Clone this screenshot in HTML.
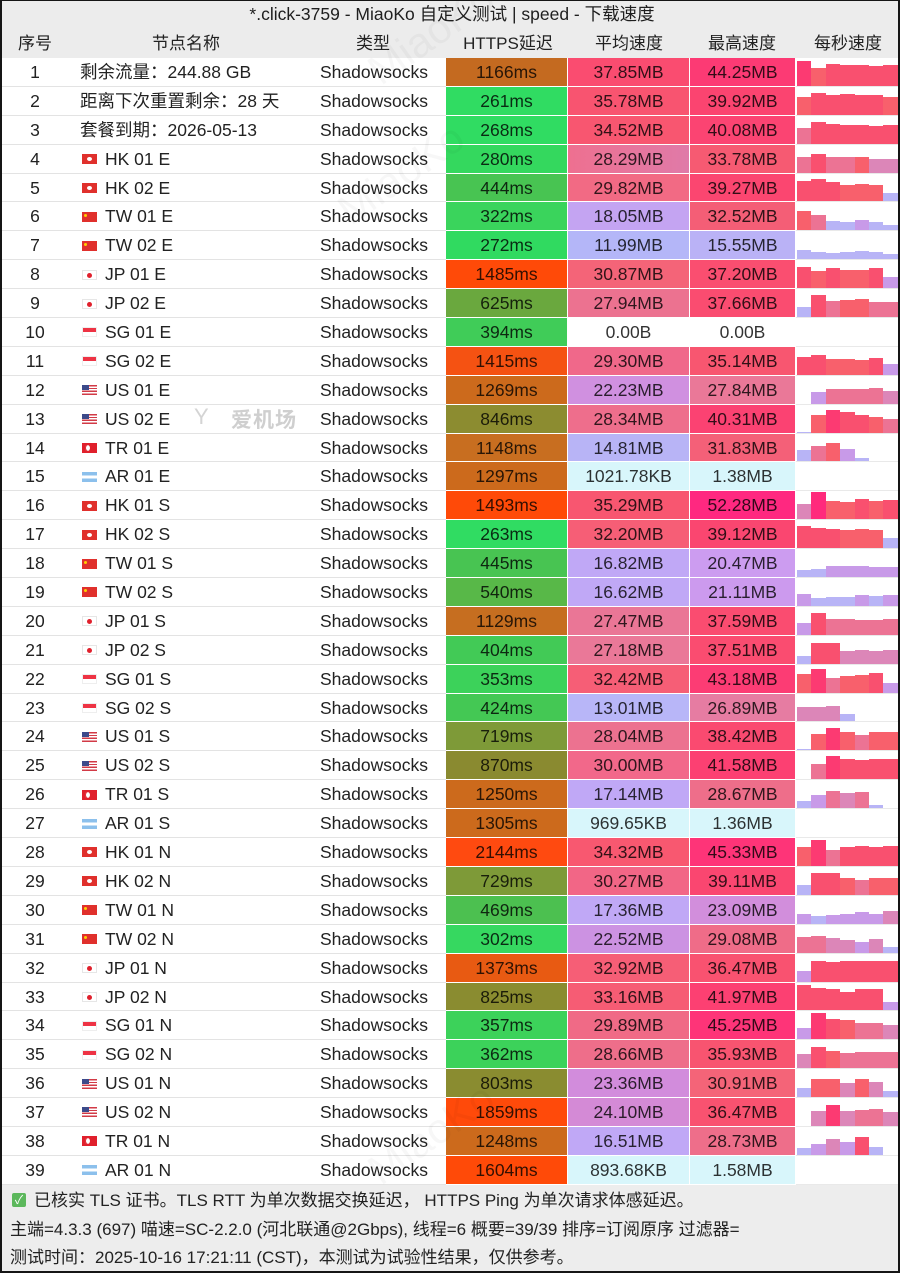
<!DOCTYPE html>
<html><head><meta charset="utf-8">
<style>
*{margin:0;padding:0;box-sizing:border-box}
html,body{width:900px;height:1273px;overflow:hidden;background:#fff}
body{position:relative;font-family:"Liberation Sans","Noto Sans CJK SC",sans-serif;color:#222;font-size:17.5px}
#hdr{position:absolute;left:0;top:0;width:900px;height:58px;background:#ececec}
#title{position:absolute;left:0;top:0;width:900px;height:29px;line-height:29px;text-align:center;font-size:17.5px;color:#1e1e1e;padding-left:4px}
.hl{position:absolute;top:29px;height:29px;line-height:29px;width:130px;text-align:center;font-size:17px;color:#222}
#rows{position:absolute;left:0;top:58px;width:900px}
.r{position:relative;height:28.9px;line-height:28.9px;background:linear-gradient(#e3e3e3,#e3e3e3) left bottom/446px 1px no-repeat,linear-gradient(#e9e9e9,#e9e9e9) right bottom/104px 1px no-repeat}
.r>span{position:absolute;top:0;white-space:nowrap}
.n{left:0;width:70px;text-align:center}
.nm{left:82px}
.nm.c{left:80px}
.t{left:304px;width:140px;text-align:center}
.l,.a,.m{height:calc(100% - 1px);text-align:center;color:rgba(0,0,0,.8)}
.l{left:446px;width:121px}
.a{left:568px;width:121px}
.m{left:690px;width:105px}
.s{left:797px;right:0;height:calc(100% - 1px)}
.s i{position:absolute;bottom:0;width:14.4px;display:block}
.s i:nth-child(1){left:0}
.s i:nth-child(2){left:14.4px}
.s i:nth-child(3){left:28.8px}
.s i:nth-child(4){left:43.2px}
.s i:nth-child(5){left:57.6px}
.s i:nth-child(6){left:72px}
.s i:nth-child(7){left:86.4px;width:auto;right:0}
.H{background:#fc3a72}.R{background:#f9506f}.O{background:#f8606c}.P{background:#ec7394}.M{background:#dc86b8}.V{background:#c89ae8}.B{background:#b8b4f6}
.f{display:inline-block;width:15px;height:10px;vertical-align:middle;margin-right:8px;position:relative;top:-1px}
.hk{background:#e0302c}.hk::after{content:"";position:absolute;left:5px;top:3px;width:5px;height:4px;border-radius:50%;background:#fff}
.tw{background:#e0302c}.tw::after{content:"";position:absolute;left:2px;top:2px;width:3px;height:3px;background:#ffd000;border-radius:50%}
.jp{background:#fff;border:1px solid #e6e6e6}.jp::after{content:"";position:absolute;left:4px;top:2px;width:5px;height:5px;border-radius:50%;background:#e0202c}
.sg{background:linear-gradient(#ee3344 50%,#fff 50%);border:1px solid #eee}
.us{background:linear-gradient(#3c4a8a,#3c4a8a) left top/7px 5px no-repeat,repeating-linear-gradient(#d23a46 0 1.4px,#fff 1.4px 2.8px)}
.tr{background:#e0202c}.tr::after{content:"";position:absolute;left:3px;top:2px;width:5px;height:6px;border-radius:50%;background:#fff;box-shadow:1px 0 0 0 #e0202c inset}
.ar{background:linear-gradient(#8cc0ec 33%,#fff 33% 67%,#8cc0ec 67%)}
#foot{position:absolute;left:0;top:1185px;width:900px;height:88px;background:#ededed}
.fl{position:absolute;left:10px;height:28px;line-height:28px;font-size:17px;color:#222;white-space:nowrap}
.ck{display:inline-block;width:14px;height:14px;background:#5cb85c;border-radius:2px;color:#fff;font-size:12px;line-height:14px;text-align:center;vertical-align:middle;margin:0 8px 0 2px;position:relative;top:-2px}
.wm{position:absolute;font-size:42px;color:rgba(0,0,0,.03);transform:rotate(-35deg);white-space:nowrap;pointer-events:none}
#frame{position:absolute;left:0;top:0;width:900px;height:1273px;border-style:solid;border-color:#151515;border-width:1px 2px 2px 2px;pointer-events:none}
</style></head><body>
<div id="hdr">
<div id="title">*.click-3759 - MiaoKo 自定义测试 | speed - 下载速度</div>
<div class="hl" style="left:-30px">序号</div>
<div class="hl" style="left:121px">节点名称</div>
<div class="hl" style="left:308px">类型</div>
<div class="hl" style="left:443px">HTTPS延迟</div>
<div class="hl" style="left:564px">平均速度</div>
<div class="hl" style="left:677px">最高速度</div>
<div class="hl" style="left:783px">每秒速度</div>
</div>

<div id="rows">
<div class="r"><span class="n">1</span><span class="nm c">剩余流量：244.88 GB</span><span class="t">Shadowsocks</span><span class="l" style="background:#c46a20">1166ms</span><span class="a" style="background:#fa4c70">37.85MB</span><span class="m" style="background:#fc3a74">44.25MB</span><span class="s"><i class="H" style="height:25px"></i><i class="O" style="height:18px"></i><i class="R" style="height:22px"></i><i class="R" style="height:21px"></i><i class="R" style="height:21px"></i><i class="R" style="height:20px"></i><i class="R" style="height:21px"></i></span></div>
<div class="r"><span class="n">2</span><span class="nm c">距离下次重置剩余：28 天</span><span class="t">Shadowsocks</span><span class="l" style="background:#30dc62">261ms</span><span class="a" style="background:#f85470">35.78MB</span><span class="m" style="background:#fb4470">39.92MB</span><span class="s"><i class="O" style="height:18px"></i><i class="R" style="height:22px"></i><i class="R" style="height:20px"></i><i class="R" style="height:21px"></i><i class="R" style="height:20px"></i><i class="R" style="height:20px"></i><i class="O" style="height:18px"></i></span></div>
<div class="r"><span class="n">3</span><span class="nm c">套餐到期：2026-05-13</span><span class="t">Shadowsocks</span><span class="l" style="background:#30dc62">268ms</span><span class="a" style="background:#f85670">34.52MB</span><span class="m" style="background:#fb4472">40.08MB</span><span class="s"><i class="P" style="height:16px"></i><i class="R" style="height:22px"></i><i class="R" style="height:20px"></i><i class="R" style="height:19px"></i><i class="R" style="height:19px"></i><i class="R" style="height:18px"></i><i class="R" style="height:19px"></i></span></div>
<div class="r"><span class="n">4</span><span class="nm"><span class="f hk"></span>HK 01 E</span><span class="t">Shadowsocks</span><span class="l" style="background:#34d85e">280ms</span><span class="a" style="background:linear-gradient(90deg,#ee7090,#e07aa8)">28.29MB</span><span class="m" style="background:#f65a72">33.78MB</span><span class="s"><i class="P" style="height:16px"></i><i class="R" style="height:19px"></i><i class="P" style="height:16px"></i><i class="P" style="height:16px"></i><i class="O" style="height:16px"></i><i class="M" style="height:14px"></i><i class="M" style="height:14px"></i></span></div>
<div class="r"><span class="n">5</span><span class="nm"><span class="f hk"></span>HK 02 E</span><span class="t">Shadowsocks</span><span class="l" style="background:#48c452">444ms</span><span class="a" style="background:#f26a84">29.82MB</span><span class="m" style="background:#fb4670">39.27MB</span><span class="s"><i class="R" style="height:20px"></i><i class="R" style="height:22px"></i><i class="R" style="height:19px"></i><i class="O" style="height:16px"></i><i class="O" style="height:17px"></i><i class="O" style="height:16px"></i><i class="B" style="height:8px"></i></span></div>
<div class="r"><span class="n">6</span><span class="nm"><span class="f tw"></span>TW 01 E</span><span class="t">Shadowsocks</span><span class="l" style="background:#3ad45c">322ms</span><span class="a" style="background:#c4a4f2">18.05MB</span><span class="m" style="background:#f45e76">32.52MB</span><span class="s"><i class="O" style="height:19px"></i><i class="P" style="height:15px"></i><i class="B" style="height:9px"></i><i class="B" style="height:8px"></i><i class="V" style="height:10px"></i><i class="B" style="height:8px"></i><i class="B" style="height:5px"></i></span></div>
<div class="r"><span class="n">7</span><span class="nm"><span class="f tw"></span>TW 02 E</span><span class="t">Shadowsocks</span><span class="l" style="background:#30da60">272ms</span><span class="a" style="background:#b4b6f8">11.99MB</span><span class="m" style="background:#bab2f6">15.55MB</span><span class="s"><i class="B" style="height:9px"></i><i class="B" style="height:7px"></i><i class="B" style="height:6px"></i><i class="B" style="height:7px"></i><i class="B" style="height:8px"></i><i class="B" style="height:7px"></i><i class="B" style="height:5px"></i></span></div>
<div class="r"><span class="n">8</span><span class="nm"><span class="f jp"></span>JP 01 E</span><span class="t">Shadowsocks</span><span class="l" style="background:#ff4a08">1485ms</span><span class="a" style="background:#f46478">30.87MB</span><span class="m" style="background:#fa4e70">37.20MB</span><span class="s"><i class="R" style="height:21px"></i><i class="O" style="height:17px"></i><i class="R" style="height:20px"></i><i class="O" style="height:18px"></i><i class="O" style="height:18px"></i><i class="R" style="height:20px"></i><i class="V" style="height:11px"></i></span></div>
<div class="r"><span class="n">9</span><span class="nm"><span class="f jp"></span>JP 02 E</span><span class="t">Shadowsocks</span><span class="l" style="background:#6aa83e">625ms</span><span class="a" style="background:#ec7290">27.94MB</span><span class="m" style="background:#fa4c70">37.66MB</span><span class="s"><i class="B" style="height:10px"></i><i class="R" style="height:22px"></i><i class="P" style="height:16px"></i><i class="O" style="height:17px"></i><i class="O" style="height:18px"></i><i class="P" style="height:15px"></i><i class="P" style="height:15px"></i></span></div>
<div class="r"><span class="n">10</span><span class="nm"><span class="f sg"></span>SG 01 E</span><span class="t">Shadowsocks</span><span class="l" style="background:#40cc58">394ms</span><span class="a" style="background:#fff">0.00B</span><span class="m" style="background:#fff">0.00B</span><span class="s"></span></div>
<div class="r"><span class="n">11</span><span class="nm"><span class="f sg"></span>SG 02 E</span><span class="t">Shadowsocks</span><span class="l" style="background:#f55212">1415ms</span><span class="a" style="background:#f0688a">29.30MB</span><span class="m" style="background:#f85670">35.14MB</span><span class="s"><i class="R" style="height:18px"></i><i class="R" style="height:20px"></i><i class="O" style="height:16px"></i><i class="O" style="height:16px"></i><i class="O" style="height:15px"></i><i class="R" style="height:17px"></i><i class="V" style="height:11px"></i></span></div>
<div class="r"><span class="n">12</span><span class="nm"><span class="f us"></span>US 01 E</span><span class="t">Shadowsocks</span><span class="l" style="background:#cc6a1c">1269ms</span><span class="a" style="background:#d090e0">22.23MB</span><span class="m" style="background:#ea7898">27.84MB</span><span class="s"><i class="B" style="height:0"></i><i class="V" style="height:12px"></i><i class="P" style="height:15px"></i><i class="P" style="height:15px"></i><i class="P" style="height:15px"></i><i class="P" style="height:16px"></i><i class="M" style="height:13px"></i></span></div>
<div class="r"><span class="n">13</span><span class="nm"><span class="f us"></span>US 02 E</span><span class="t">Shadowsocks</span><span class="l" style="background:#8c8c30">846ms</span><span class="a" style="background:#ee6e8c">28.34MB</span><span class="m" style="background:#fb4272">40.31MB</span><span class="s"><i class="B" style="height:1px"></i><i class="O" style="height:18px"></i><i class="H" style="height:23px"></i><i class="R" style="height:21px"></i><i class="R" style="height:18px"></i><i class="O" style="height:16px"></i><i class="P" style="height:14px"></i></span></div>
<div class="r"><span class="n">14</span><span class="nm"><span class="f tr"></span>TR 01 E</span><span class="t">Shadowsocks</span><span class="l" style="background:#c86e20">1148ms</span><span class="a" style="background:#b8b4f6">14.81MB</span><span class="m" style="background:#f46078">31.83MB</span><span class="s"><i class="B" style="height:11px"></i><i class="P" style="height:15px"></i><i class="O" style="height:18px"></i><i class="V" style="height:12px"></i><i class="B" style="height:3px"></i><i class="B" style="height:0"></i><i class="B" style="height:0"></i></span></div>
<div class="r"><span class="n">15</span><span class="nm"><span class="f ar"></span>AR 01 E</span><span class="t">Shadowsocks</span><span class="l" style="background:#cc6a1c">1297ms</span><span class="a" style="background:#d8f6fb">1021.78KB</span><span class="m" style="background:#d8f6fb">1.38MB</span><span class="s"></span></div>
<div class="r"><span class="n">16</span><span class="nm"><span class="f hk"></span>HK 01 S</span><span class="t">Shadowsocks</span><span class="l" style="background:#ff4a08">1493ms</span><span class="a" style="background:#f85670">35.29MB</span><span class="m" style="background:#ff2880">52.28MB</span><span class="s"><i class="M" style="height:15px"></i><i class="H" style="height:27px;background:#ff2a7c"></i><i class="O" style="height:18px"></i><i class="O" style="height:17px"></i><i class="R" style="height:20px"></i><i class="O" style="height:18px"></i><i class="R" style="height:19px"></i></span></div>
<div class="r"><span class="n">17</span><span class="nm"><span class="f hk"></span>HK 02 S</span><span class="t">Shadowsocks</span><span class="l" style="background:#30dc62">263ms</span><span class="a" style="background:#f65e76">32.20MB</span><span class="m" style="background:#fa4670">39.12MB</span><span class="s"><i class="R" style="height:22px"></i><i class="R" style="height:20px"></i><i class="R" style="height:19px"></i><i class="O" style="height:18px"></i><i class="O" style="height:19px"></i><i class="O" style="height:18px"></i><i class="B" style="height:10px"></i></span></div>
<div class="r"><span class="n">18</span><span class="nm"><span class="f tw"></span>TW 01 S</span><span class="t">Shadowsocks</span><span class="l" style="background:#48c452">445ms</span><span class="a" style="background:#c0a8f6">16.82MB</span><span class="m" style="background:#cc9cf0">20.47MB</span><span class="s"><i class="B" style="height:7px"></i><i class="B" style="height:8px"></i><i class="V" style="height:11px"></i><i class="V" style="height:11px"></i><i class="V" style="height:11px"></i><i class="V" style="height:10px"></i><i class="V" style="height:10px"></i></span></div>
<div class="r"><span class="n">19</span><span class="nm"><span class="f tw"></span>TW 02 S</span><span class="t">Shadowsocks</span><span class="l" style="background:#58b848">540ms</span><span class="a" style="background:#c0a8f6">16.62MB</span><span class="m" style="background:#cc9aee">21.11MB</span><span class="s"><i class="V" style="height:12px"></i><i class="B" style="height:8px"></i><i class="B" style="height:9px"></i><i class="B" style="height:9px"></i><i class="V" style="height:11px"></i><i class="B" style="height:10px"></i><i class="V" style="height:11px"></i></span></div>
<div class="r"><span class="n">20</span><span class="nm"><span class="f jp"></span>JP 01 S</span><span class="t">Shadowsocks</span><span class="l" style="background:#c66e20">1129ms</span><span class="a" style="background:#ea7696">27.47MB</span><span class="m" style="background:#fa4c70">37.59MB</span><span class="s"><i class="V" style="height:12px"></i><i class="R" style="height:22px"></i><i class="P" style="height:16px"></i><i class="P" style="height:16px"></i><i class="P" style="height:15px"></i><i class="P" style="height:15px"></i><i class="P" style="height:16px"></i></span></div>
<div class="r"><span class="n">21</span><span class="nm"><span class="f jp"></span>JP 02 S</span><span class="t">Shadowsocks</span><span class="l" style="background:#42ca56">404ms</span><span class="a" style="background:#ea7898">27.18MB</span><span class="m" style="background:#fa4c70">37.51MB</span><span class="s"><i class="B" style="height:8px"></i><i class="R" style="height:21px"></i><i class="R" style="height:21px"></i><i class="M" style="height:13px"></i><i class="M" style="height:14px"></i><i class="M" style="height:13px"></i><i class="M" style="height:14px"></i></span></div>
<div class="r"><span class="n">22</span><span class="nm"><span class="f sg"></span>SG 01 S</span><span class="t">Shadowsocks</span><span class="l" style="background:#3cd25a">353ms</span><span class="a" style="background:#f65e76">32.42MB</span><span class="m" style="background:#fc3c74">43.18MB</span><span class="s"><i class="O" style="height:19px"></i><i class="H" style="height:24px"></i><i class="P" style="height:15px"></i><i class="O" style="height:17px"></i><i class="O" style="height:18px"></i><i class="R" style="height:20px"></i><i class="V" style="height:10px"></i></span></div>
<div class="r"><span class="n">23</span><span class="nm"><span class="f sg"></span>SG 02 S</span><span class="t">Shadowsocks</span><span class="l" style="background:#44c854">424ms</span><span class="a" style="background:#b8b6f8">13.01MB</span><span class="m" style="background:#e67ca2">26.89MB</span><span class="s"><i class="M" style="height:14px"></i><i class="M" style="height:14px"></i><i class="M" style="height:15px"></i><i class="B" style="height:7px"></i><i class="B" style="height:0"></i><i class="B" style="height:0"></i><i class="B" style="height:0"></i></span></div>
<div class="r"><span class="n">24</span><span class="nm"><span class="f us"></span>US 01 S</span><span class="t">Shadowsocks</span><span class="l" style="background:#7e9a38">719ms</span><span class="a" style="background:#ec7290">28.04MB</span><span class="m" style="background:#fa4a70">38.42MB</span><span class="s"><i class="B" style="height:1px"></i><i class="O" style="height:16px"></i><i class="H" style="height:22px"></i><i class="O" style="height:18px"></i><i class="P" style="height:15px"></i><i class="O" style="height:18px"></i><i class="O" style="height:18px"></i></span></div>
<div class="r"><span class="n">25</span><span class="nm"><span class="f us"></span>US 02 S</span><span class="t">Shadowsocks</span><span class="l" style="background:#8a8a30">870ms</span><span class="a" style="background:#f2688a">30.00MB</span><span class="m" style="background:#fc4072">41.58MB</span><span class="s"><i class="B" style="height:0"></i><i class="P" style="height:15px"></i><i class="H" style="height:23px"></i><i class="R" style="height:20px"></i><i class="R" style="height:19px"></i><i class="R" style="height:20px"></i><i class="R" style="height:20px"></i></span></div>
<div class="r"><span class="n">26</span><span class="nm"><span class="f tr"></span>TR 01 S</span><span class="t">Shadowsocks</span><span class="l" style="background:#cc6a1c">1250ms</span><span class="a" style="background:#c0a8f6">17.14MB</span><span class="m" style="background:#ee6e8a">28.67MB</span><span class="s"><i class="B" style="height:7px"></i><i class="V" style="height:13px"></i><i class="P" style="height:17px"></i><i class="M" style="height:15px"></i><i class="P" style="height:16px"></i><i class="B" style="height:3px"></i><i class="B" style="height:0"></i></span></div>
<div class="r"><span class="n">27</span><span class="nm"><span class="f ar"></span>AR 01 S</span><span class="t">Shadowsocks</span><span class="l" style="background:#cc6a1c">1305ms</span><span class="a" style="background:#d8f6fb">969.65KB</span><span class="m" style="background:#d8f6fb">1.36MB</span><span class="s"></span></div>
<div class="r"><span class="n">28</span><span class="nm"><span class="f hk"></span>HK 01 N</span><span class="t">Shadowsocks</span><span class="l" style="background:#ff4a10">2144ms</span><span class="a" style="background:#f85870">34.32MB</span><span class="m" style="background:#fe3478">45.33MB</span><span class="s"><i class="O" style="height:19px"></i><i class="H" style="height:26px"></i><i class="P" style="height:16px"></i><i class="R" style="height:19px"></i><i class="R" style="height:20px"></i><i class="R" style="height:19px"></i><i class="R" style="height:20px"></i></span></div>
<div class="r"><span class="n">29</span><span class="nm"><span class="f hk"></span>HK 02 N</span><span class="t">Shadowsocks</span><span class="l" style="background:#7e9a38">729ms</span><span class="a" style="background:#f26686">30.27MB</span><span class="m" style="background:#fa4670">39.11MB</span><span class="s"><i class="B" style="height:10px"></i><i class="R" style="height:22px"></i><i class="R" style="height:22px"></i><i class="O" style="height:17px"></i><i class="P" style="height:15px"></i><i class="O" style="height:17px"></i><i class="O" style="height:17px"></i></span></div>
<div class="r"><span class="n">30</span><span class="nm"><span class="f tw"></span>TW 01 N</span><span class="t">Shadowsocks</span><span class="l" style="background:#4cc050">469ms</span><span class="a" style="background:#c0a8f6">17.36MB</span><span class="m" style="background:#d28edc">23.09MB</span><span class="s"><i class="V" style="height:10px"></i><i class="B" style="height:8px"></i><i class="V" style="height:9px"></i><i class="V" style="height:10px"></i><i class="V" style="height:12px"></i><i class="V" style="height:10px"></i><i class="M" style="height:13px"></i></span></div>
<div class="r"><span class="n">31</span><span class="nm"><span class="f tw"></span>TW 02 N</span><span class="t">Shadowsocks</span><span class="l" style="background:#36d860">302ms</span><span class="a" style="background:#cc92e2">22.52MB</span><span class="m" style="background:#ef6c88">29.08MB</span><span class="s"><i class="P" style="height:16px"></i><i class="P" style="height:17px"></i><i class="M" style="height:15px"></i><i class="M" style="height:13px"></i><i class="V" style="height:11px"></i><i class="M" style="height:14px"></i><i class="B" style="height:6px"></i></span></div>
<div class="r"><span class="n">32</span><span class="nm"><span class="f jp"></span>JP 01 N</span><span class="t">Shadowsocks</span><span class="l" style="background:#e85a12">1373ms</span><span class="a" style="background:#f65e76">32.92MB</span><span class="m" style="background:#f95270">36.47MB</span><span class="s"><i class="V" style="height:11px"></i><i class="R" style="height:21px"></i><i class="R" style="height:20px"></i><i class="R" style="height:21px"></i><i class="R" style="height:21px"></i><i class="R" style="height:21px"></i><i class="R" style="height:21px"></i></span></div>
<div class="r"><span class="n">33</span><span class="nm"><span class="f jp"></span>JP 02 N</span><span class="t">Shadowsocks</span><span class="l" style="background:#8a8c30">825ms</span><span class="a" style="background:#f65c74">33.16MB</span><span class="m" style="background:#fc4072">41.97MB</span><span class="s"><i class="R" style="height:25px"></i><i class="R" style="height:22px"></i><i class="R" style="height:21px"></i><i class="R" style="height:18px"></i><i class="R" style="height:21px"></i><i class="R" style="height:21px"></i><i class="V" style="height:8px"></i></span></div>
<div class="r"><span class="n">34</span><span class="nm"><span class="f sg"></span>SG 01 N</span><span class="t">Shadowsocks</span><span class="l" style="background:#3cd25a">357ms</span><span class="a" style="background:#f06a86">29.89MB</span><span class="m" style="background:#fe3478">45.25MB</span><span class="s"><i class="V" style="height:11px"></i><i class="H" style="height:26px"></i><i class="R" style="height:20px"></i><i class="O" style="height:19px"></i><i class="P" style="height:16px"></i><i class="P" style="height:16px"></i><i class="M" style="height:14px"></i></span></div>
<div class="r"><span class="n">35</span><span class="nm"><span class="f sg"></span>SG 02 N</span><span class="t">Shadowsocks</span><span class="l" style="background:#3cd25a">362ms</span><span class="a" style="background:#ee6e8a">28.66MB</span><span class="m" style="background:#f85470">35.93MB</span><span class="s"><i class="M" style="height:14px"></i><i class="R" style="height:21px"></i><i class="O" style="height:17px"></i><i class="P" style="height:15px"></i><i class="P" style="height:16px"></i><i class="P" style="height:16px"></i><i class="P" style="height:16px"></i></span></div>
<div class="r"><span class="n">36</span><span class="nm"><span class="f us"></span>US 01 N</span><span class="t">Shadowsocks</span><span class="l" style="background:#8a8c30">803ms</span><span class="a" style="background:#d28cdc">23.36MB</span><span class="m" style="background:#f46478">30.91MB</span><span class="s"><i class="B" style="height:9px"></i><i class="O" style="height:18px"></i><i class="O" style="height:18px"></i><i class="M" style="height:14px"></i><i class="O" style="height:18px"></i><i class="M" style="height:15px"></i><i class="B" style="height:6px"></i></span></div>
<div class="r"><span class="n">37</span><span class="nm"><span class="f us"></span>US 02 N</span><span class="t">Shadowsocks</span><span class="l" style="background:#ff4a0a">1859ms</span><span class="a" style="background:#d48ad6">24.10MB</span><span class="m" style="background:#f95270">36.47MB</span><span class="s"><i class="B" style="height:0"></i><i class="M" style="height:15px"></i><i class="H" style="height:21px"></i><i class="M" style="height:15px"></i><i class="P" style="height:16px"></i><i class="P" style="height:17px"></i><i class="M" style="height:14px"></i></span></div>
<div class="r"><span class="n">38</span><span class="nm"><span class="f tr"></span>TR 01 N</span><span class="t">Shadowsocks</span><span class="l" style="background:#cc6a1c">1248ms</span><span class="a" style="background:#c0a8f6">16.51MB</span><span class="m" style="background:#ee6e8a">28.73MB</span><span class="s"><i class="B" style="height:7px"></i><i class="V" style="height:11px"></i><i class="M" style="height:16px"></i><i class="V" style="height:13px"></i><i class="R" style="height:18px"></i><i class="B" style="height:8px"></i><i class="B" style="height:0"></i></span></div>
<div class="r"><span class="n">39</span><span class="nm"><span class="f ar"></span>AR 01 N</span><span class="t">Shadowsocks</span><span class="l" style="background:#ff4a08">1604ms</span><span class="a" style="background:#d8f6fb">893.68KB</span><span class="m" style="background:#d8f6fb">1.58MB</span><span class="s"></span></div>
</div>

<div style="position:absolute;left:194px;top:404px;font-size:22px;color:#d4d4d4;font-family:'Liberation Sans',sans-serif">Y</div>
<div style="position:absolute;left:231px;top:404px;font-size:21px;color:#cfcfcf;font-weight:bold;letter-spacing:1px;font-family:'Liberation Sans','Noto Sans CJK SC',sans-serif">爱机场</div>

<div class="wm" style="left:360px;top:10px">MiaoKo</div>
<div class="wm" style="left:330px;top:150px">MiaoKo</div>
<div class="wm" style="left:360px;top:1110px">MiaoKo</div>

<div id="foot">
<div class="fl" style="top:2px"><span class="ck">✓</span>已核实 TLS 证书。TLS RTT 为单次数据交换延迟， HTTPS Ping 为单次请求体感延迟。</div>
<div class="fl" style="top:31px">主端=4.3.3 (697) 喵速=SC-2.2.0 (河北联通@2Gbps), 线程=6 概要=39/39 排序=订阅原序 过滤器=</div>
<div class="fl" style="top:59px">测试时间：2025-10-16 17:21:11 (CST)，本测试为试验性结果，仅供参考。</div>
</div>
<div id="frame"></div>
</body></html>
